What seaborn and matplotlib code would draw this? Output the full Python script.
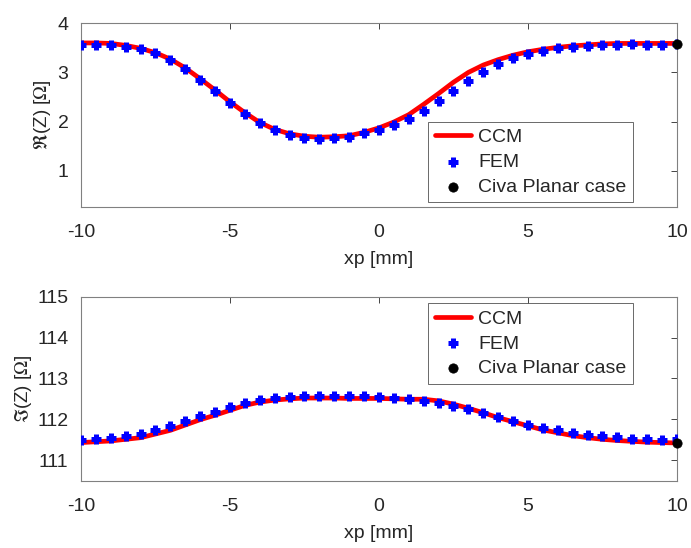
import matplotlib
matplotlib.use("Agg")
import matplotlib.pyplot as plt
import numpy as np
import seaborn as sns

# ── data ──────────────────────────────────────────────────────────────────
xp = np.arange(-10, 10.01, 0.5)

re_ccm = [3.60, 3.60, 3.59, 3.55, 3.49, 3.40, 3.27, 3.09, 2.87, 2.64,
          2.40, 2.18, 1.98, 1.84, 1.75, 1.70, 1.68, 1.69, 1.71, 1.78,
          1.87, 1.99, 2.14, 2.35, 2.57, 2.80, 3.00, 3.15, 3.26, 3.35,
          3.42, 3.47, 3.51, 3.54, 3.56, 3.58, 3.59, 3.59, 3.59, 3.59, 3.59]
re_fem = [3.55, 3.55, 3.56, 3.52, 3.47, 3.39, 3.26, 3.07, 2.85, 2.63,
          2.38, 2.16, 1.97, 1.82, 1.73, 1.67, 1.65, 1.66, 1.69, 1.76,
          1.83, 1.93, 2.06, 2.22, 2.41, 2.63, 2.83, 3.01, 3.17, 3.29,
          3.37, 3.44, 3.49, 3.51, 3.54, 3.55, 3.56, 3.57, 3.56, 3.55, 3.57]
re_civa = 3.57

im_ccm = [111.43, 111.45, 111.47, 111.51, 111.55, 111.64, 111.73, 111.86, 111.99, 112.10,
          112.22, 112.34, 112.42, 112.47, 112.50, 112.52, 112.52, 112.52, 112.51, 112.51,
          112.51, 112.50, 112.49, 112.49, 112.45, 112.37, 112.27, 112.16, 112.04, 111.94,
          111.84, 111.74, 111.67, 111.60, 111.55, 111.51, 111.48, 111.46, 111.44, 111.43, 111.42]
im_fem = [111.49, 111.52, 111.54, 111.59, 111.64, 111.73, 111.83, 111.95, 112.08, 112.18,
          112.30, 112.40, 112.48, 112.52, 112.54, 112.56, 112.58, 112.58, 112.57, 112.57,
          112.55, 112.51, 112.50, 112.45, 112.40, 112.33, 112.25, 112.16, 112.05, 111.96,
          111.87, 111.79, 111.73, 111.67, 111.62, 111.58, 111.56, 111.52, 111.51, 111.50, 111.51]
im_civa = 111.42

civa_x = 10.0

# ── style ────────────────────────────────────────────────────────────────
sns.set_theme(style="white")
plt.rcParams["font.family"] = ["Liberation Sans", "DejaVu Sans"]
plt.rcParams["mathtext.fontset"] = "stix"
FG = "#262626"

fig = plt.figure(figsize=(6.91, 5.48), dpi=100)
ax1 = fig.add_axes([0.1172, 0.6223, 0.8625, 0.3352])
ax2 = fig.add_axes([0.1172, 0.1223, 0.8625, 0.3363])


def draw(ax, ccm, fem, civa, ylim, yticks, ylabel, ylabel_x, leg_anchor):
    sns.lineplot(x=xp, y=ccm, ax=ax, color="red", linewidth=3.4, label="CCM")
    sns.scatterplot(x=xp, y=fem, ax=ax, marker="+", color="blue", s=55,
                    linewidth=3.6, label="FEM", zorder=3)
    sns.scatterplot(x=[civa_x], y=[civa], ax=ax, color="black", s=45,
                    edgecolor="black", linewidth=0.5, label="Civa Planar case",
                    zorder=4, clip_on=False)
    ax.set_xlim(-10, 10)
    ax.set_ylim(*ylim)
    ax.set_xticks([-10, -5, 0, 5, 10])
    ax.set_xticklabels(["-10", "-5", "0", "5", "10"])
    ax.set_yticks(yticks)
    ax.set_xlabel("xp [mm]", fontsize=14, color=FG, labelpad=7)
    ax.set_ylabel(ylabel, fontsize=13.5, color=FG)
    ax.yaxis.set_label_coords(ylabel_x, 0.5)
    ax.tick_params(direction="in", length=4, width=0.6, colors=FG,
                   labelsize=14, top=True, right=True, pad=9)
    ax.tick_params(axis="x", pad=12.5)
    for sp in ax.spines.values():
        sp.set_color("#808080")
        sp.set_linewidth(0.8)
    leg = ax.legend(loc="upper left", bbox_to_anchor=leg_anchor,
                    bbox_transform=fig.transFigure, fontsize=14,
                    frameon=True, fancybox=False, borderpad=0.35,
                    labelspacing=0.37, handlelength=1.9, handletextpad=0.35,
                    borderaxespad=0)
    leg.get_frame().set_edgecolor(FG)
    leg.get_frame().set_linewidth(0.6)
    for t in leg.get_texts():
        t.set_color(FG)


draw(ax1, re_ccm, re_fem, re_civa, (0.26, 4), [1, 2, 3, 4],
     r"$\Re$(Z) [$\Omega$]", -0.047, (0.619, 0.778))
draw(ax2, im_ccm, im_fem, im_civa, (110.49, 115), [111, 112, 113, 114, 115],
     r"$\Im$(Z) [$\Omega$]", -0.078, (0.619, 0.4465))

fig.savefig("out.png", dpi=100)
